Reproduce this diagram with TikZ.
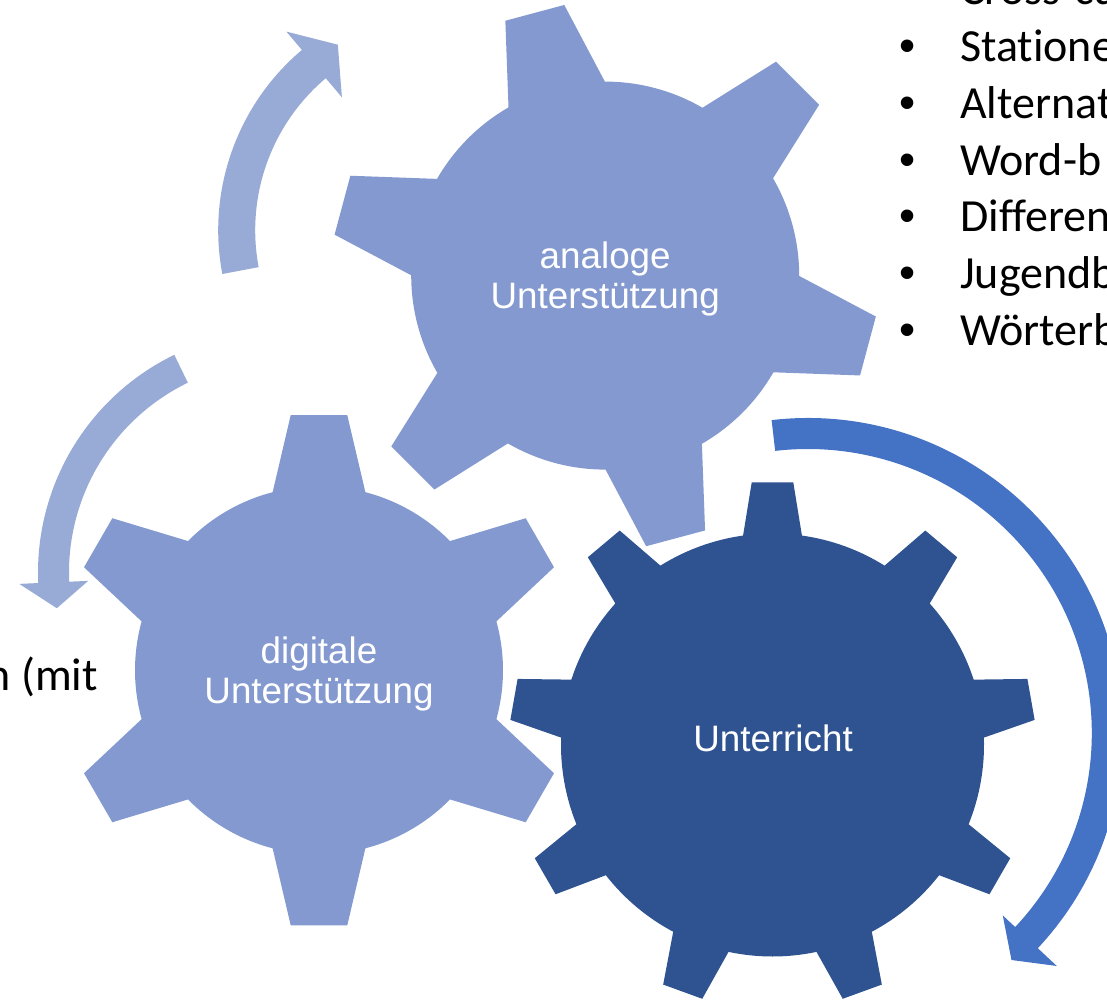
\documentclass[tikz,border=0pt]{standalone}
\usepackage{fontspec}
\setmainfont{Liberation Sans}
\newfontfamily\calibri[Ligatures=NoCommon]{Carlito}
\usetikzlibrary{calc}
\definecolor{gearlight}{RGB}{131,153,207}
\definecolor{geardark}{RGB}{47,83,145}
\definecolor{arrowlight}{RGB}{152,171,214}
\definecolor{arrowblue}{RGB}{68,114,196}
\tikzset{
	gearlabel/.style={align=center, text=white, inner sep=0pt, font=\fontsize{36.8}{40}\selectfont},
	bodytext/.style={anchor=base west, inner sep=0pt, font=\calibri\fontsize{46}{56}\selectfont},
	bulletmark/.style={anchor=base, inner sep=0pt, font=\fontsize{46}{56}\selectfont},
}
% center, teeth, first angle, body radius, base half angle, outer radius, outer half width
\newcommand{\gearpath}[7]{%
	($(#1)+(#3-#5:#4)$)
	\foreach \k [evaluate=\k as \ang using #3+(\k-1)*360/#2] in {1,...,#2}{
		-- ($(#1)+(\ang:#6)+(\ang-90:#7)$)
		-- ($(#1)+(\ang:#6)+(\ang+90:#7)$)
		-- ($(#1)+(\ang+#5:#4)$)
		arc[start angle=\ang+#5, end angle=\ang+360/#2-#5, radius=#4]
	} -- cycle}

\begin{document}
\begin{tikzpicture}[x=1pt, y=1pt]
	\useasboundingbox (0,0) rectangle (1107,999);

	\coordinate (ga) at (605.2, 723.4);
	\coordinate (gd) at (319, 328.75);
	\coordinate (gu) at (772.5, 254);
	\coordinate (ca) at (454.2, 768.8);
	\coordinate (cd) at (280, 426.5);
	\coordinate (cu) at (807.8, 266);

	% circular arrows
	\fill[arrowlight] ($(ca)+(190.7:236)$) arc[start angle=190.7, end angle=130.2, radius=236]
		-- ($(ca)+(130.2:260)$) -- ($(ca)+(122.1:219)$) -- ($(ca)+(130.2:174)$)
		-- ($(ca)+(130.2:199)$) arc[start angle=130.2, end angle=190.7, radius=199] -- cycle;
	\fill[arrowlight] ($(cd)+(115.9:242)$) arc[start angle=115.9, end angle=182.5, radius=242]
		-- ($(cd)+(182.5:261)$) -- ($(cd)+(189.1:226)$) -- ($(cd)+(182.5:192)$)
		-- ($(cd)+(182.5:211)$) arc[start angle=182.5, end angle=115.9, radius=211] -- cycle;
	\fill[arrowblue] ($(cu)+(96.6:315)$) arc[start angle=96.6, end angle=-43.1, radius=315]
		-- ($(cu)+(-43.1:341)$) -- ($(cu)+(-48.1:305)$) -- ($(cu)+(-43.1:267)$)
		-- ($(cu)+(-43.1:284)$) arc[start angle=-43.1, end angle=96.6, radius=284] -- cycle;

	% gears
	\fill[gearlight] \gearpath{ga}{6}{105}{194}{14.9}{272}{30.5};
	\fill[gearlight] \gearpath{gd}{6}{90}{184}{14.6}{255}{28.3};
	\fill[geardark] \gearpath{gu}{9}{90}{211.5}{8}{262.5}{20.8};

	\node[gearlabel] (ana) at (605.2, 720.2) {analoge\\Unterstützung};
	\node[gearlabel] (dig) at (319, 325) {digitale\\Unterstützung};
	\node[gearlabel] (unt) at (773, 260.5) {Unterricht};

	% text cut by the page
	\node[bodytext] (item0) at (960, 994) {Cross-cu};
	\foreach \txt [count=\i] in {Statione, Alternat, Word-b, Differen, Jugendb, Wörterb}{
		\node[bulletmark] (bul\i) at (908, 994-56.7*\i) {•};
		\node[bodytext] (item\i) at (960, 994-56.7*\i) {\txt};
	}
	\node[bodytext, anchor=base east] (mit) at (98, 309) {n (mit};
\end{tikzpicture}
\end{document}
